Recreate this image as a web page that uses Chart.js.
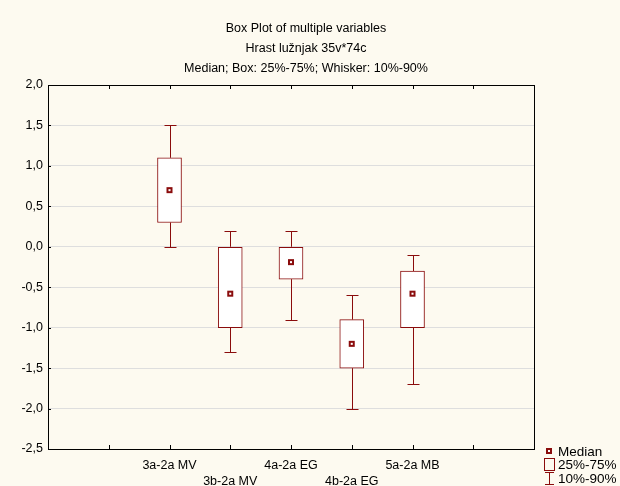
<!DOCTYPE html>
<html>
<head>
<meta charset="utf-8">
<script src="https://cdn.jsdelivr.net/npm/chart.js@4/dist/chart.umd.min.js"></script>
<style>
  html, body { margin: 0; padding: 0; background: #fdfaf0; }
  #wrap { position: absolute; left: 0; top: 0; width: 620px; height: 486px; }
</style>
</head>
<body>
<div id="wrap"><canvas id="myChart" width="620" height="486"></canvas></div>
<script>
// categories and their positions on the 0..8 x axis
const categories = ['3a-2a MV', '3b-2a MV', '4a-2a EG', '4b-2a EG', '5a-2a MB'];
const positions = [2, 3, 4, 5, 6];

// box plot values
const medians = [0.70, -0.58, -0.19, -1.20, -0.58];
const q25 = [0.30, -1.00, -0.40, -1.50, -1.00];
const q75 = [1.10, 0.00, 0.00, -0.90, -0.30];
const p10 = [0.00, -1.30, -0.90, -2.00, -1.70];
const p90 = [1.50, 0.20, 0.20, -0.60, -0.10];

const titleLines = ['Box Plot of multiple variables', 'Hrast lužnjak 35v*74c', 'Median; Box: 25%-75%; Whisker: 10%-90%'];

const RED = '#8a0c0c';
const FONT = 'Arial, "Liberation Sans", sans-serif';

// whiskers, frame, inner ticks, titles and legend
const boxExtras = {
    id: 'boxExtras',
    beforeDatasetsDraw(chart) {
        const ctx = chart.ctx;
        const xs = chart.scales.x, ys = chart.scales.y;
        ctx.save();
        ctx.strokeStyle = RED;
        ctx.lineWidth = 1;
        positions.forEach((p, i) => {
            const x = Math.round(xs.getPixelForValue(p)) + 0.5;
            const yTop = Math.round(ys.getPixelForValue(p90[i])) + 0.5;
            const yBot = Math.round(ys.getPixelForValue(p10[i])) + 0.5;
            ctx.beginPath();
            ctx.moveTo(x, yTop); ctx.lineTo(x, ys.getPixelForValue(q75[i]));
            ctx.moveTo(x, ys.getPixelForValue(q25[i])); ctx.lineTo(x, yBot);
            ctx.moveTo(x - 6, yTop); ctx.lineTo(x + 6, yTop);
            ctx.moveTo(x - 6, yBot); ctx.lineTo(x + 6, yBot);
            ctx.stroke();
        });
        ctx.restore();
    },
    afterDraw(chart) {
        const ctx = chart.ctx;
        const a = chart.chartArea;
        const xs = chart.scales.x, ys = chart.scales.y;
        ctx.save();
        // frame
        ctx.strokeStyle = '#000';
        ctx.lineWidth = 1;
        ctx.strokeRect(Math.round(a.left) + 0.5, Math.round(a.top) + 0.5,
            Math.round(a.right - a.left), Math.round(a.bottom - a.top));
        // inner ticks
        ctx.beginPath();
        for (let v = 1; v < 8; v++) {
            const x = Math.round(xs.getPixelForValue(v)) + 0.5;
            ctx.moveTo(x, a.top); ctx.lineTo(x, a.top + 4);
            ctx.moveTo(x, a.bottom); ctx.lineTo(x, a.bottom - 4);
        }
        ys.ticks.forEach(t => {
            const y = Math.round(ys.getPixelForValue(t.value)) + 0.5;
            ctx.moveTo(a.left, y); ctx.lineTo(a.left + 3, y);
        });
        ctx.stroke();

        // titles
        ctx.fillStyle = '#000';
        ctx.font = '12.5px ' + FONT;
        ctx.textAlign = 'center';
        ctx.textBaseline = 'middle';
        titleLines.forEach((t, i) => ctx.fillText(t, 306, 29 + i * 20));

        // legend
        ctx.font = '13.5px ' + FONT;
        ctx.textAlign = 'left';
        ctx.fillText('Median', 558, 452);
        ctx.fillText('25%-75%', 558, 465);
        ctx.fillText('10%-90%', 558, 479);
        ctx.fillStyle = RED;
        ctx.fillRect(546, 448, 6, 6);
        ctx.fillStyle = '#fff';
        ctx.fillRect(548, 450, 2, 2);
        ctx.strokeStyle = RED;
        ctx.strokeRect(544.5, 458.5, 10, 12);
        ctx.beginPath();
        ctx.moveTo(545, 472.5); ctx.lineTo(554, 472.5);
        ctx.moveTo(549.5, 472.5); ctx.lineTo(549.5, 484.5);
        ctx.moveTo(545, 484.5); ctx.lineTo(554, 484.5);
        ctx.stroke();
        ctx.restore();
    }
};

const boxData = positions.map((p, i) => ({ x: p, y: [q25[i], q75[i]] }));
const medianData = positions.map((p, i) => ({ x: p, y: medians[i] }));

const ctx = document.getElementById('myChart').getContext('2d');
window.myChart = new Chart(ctx, {
    type: 'bar',
    data: {
        datasets: [
            {
                label: '25%-75%',
                data: boxData,
                backgroundColor: '#ffffff',
                borderColor: RED,
                borderWidth: 1,
                borderSkipped: false,
                barThickness: 24,
                order: 2
            },
            {
                type: 'scatter',
                label: 'Median',
                data: medianData,
                pointStyle: 'rect',
                pointRadius: 4.25,
                backgroundColor: RED,
                borderWidth: 0,
                order: 1
            },
            {
                type: 'scatter',
                label: 'Median dot',
                data: medianData,
                pointStyle: 'rect',
                pointRadius: 1.45,
                backgroundColor: '#ffffff',
                borderWidth: 0,
                order: 0
            }
        ]
    },
    options: {
        responsive: false,
        animation: false,
        layout: { padding: { left: 0, top: 85, right: 86, bottom: 0 } },
        plugins: {
            legend: { display: false },
            title: { display: false },
            tooltip: { enabled: false }
        },
        scales: {
            x: {
                type: 'linear',
                min: 0,
                max: 8,
                offset: false,
                grid: { display: false },
                border: { display: false },
                ticks: {
                    stepSize: 1,
                    autoSkip: false,
                    maxRotation: 0,
                    padding: 0,
                    color: '#000',
                    font: { family: FONT, size: 12.5, lineHeight: 1.3 },
                    callback: (v) => {
                        const i = positions.indexOf(v);
                        if (i < 0) return '';
                        return i % 2 === 0 ? [categories[i]] : ['', categories[i]];
                    }
                },
                afterFit: (s) => { s.height = 37; }
            },
            y: {
                min: -2.5,
                max: 2.0,
                grid: { color: '#dedede', drawTicks: false },
                border: { display: false },
                ticks: {
                    stepSize: 0.5,
                    padding: 5,
                    color: '#000',
                    font: { family: FONT, size: 12.5 },
                    callback: (v) => v.toFixed(1).replace('.', ',')
                },
                afterFit: (s) => { s.width = 48; }
            }
        }
    },
    plugins: [boxExtras]
});
</script>
</body>
</html>
